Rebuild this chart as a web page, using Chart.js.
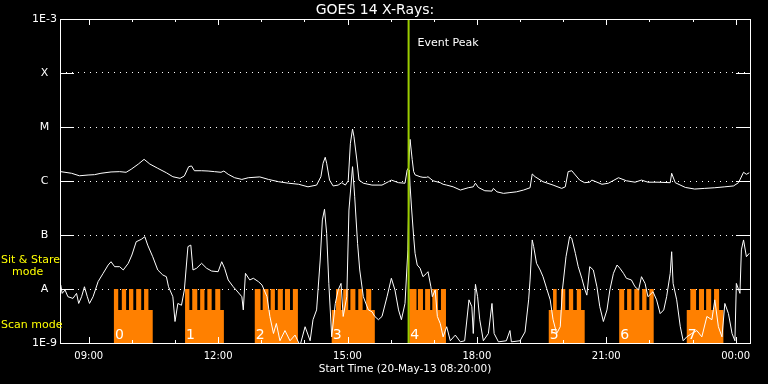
<!DOCTYPE html>
<html>
<head>
<meta charset="utf-8">
<script src="https://cdn.jsdelivr.net/npm/chart.js@4.4.1/dist/chart.umd.min.js"></script>
<style>
  html, body { margin: 0; padding: 0; background: #000; }
</style>
</head>
<body>
<canvas id="goes" width="768" height="384"></canvas>
<script>
// GOES 14 X-ray flux, 20-May-13, minutes after 08:20:00
const longTime = [1,16,27,39,48,57,71,83,92,99,109,117,125,136,148,157,167,173,179,183,187,197,206,215,224,228,234,243,253,262,278,290,304,318,332,345,357,363,366,369,371,375,380,387,392,397,401,404,407,409,413,416,422,434,448,457,461,471,480,483,485,487,490,492,494,501,505,510,512,519,529,533,538,547,557,568,575,578,582,591,601,603,608,617,626,635,645,654,657,661,672,686,698,703,707,712,717,723,730,737,740,754,763,777,788,800,809,818,832,849,851,856,870,883,897,911,925,937,944,951,955,959];
const longFlux = [1.49e-6,1.39e-6,1.25e-6,1.29e-6,1.31e-6,1.39e-6,1.47e-6,1.49e-6,1.45e-6,1.65e-6,2.06e-6,2.52e-6,2.06e-6,1.72e-6,1.42e-6,1.20e-6,1.12e-6,1.24e-6,1.84e-6,1.90e-6,1.55e-6,1.55e-6,1.53e-6,1.49e-6,1.45e-6,1.53e-6,1.33e-6,1.15e-6,1.07e-6,1.15e-6,1.19e-6,1.07e-6,9.7e-7,9.1e-7,8.7e-7,7.8e-7,8.4e-7,1.20e-6,2.13e-6,2.75e-6,2.13e-6,1.04e-6,8.1e-7,8.4e-7,9.3e-7,8.4e-7,1.01e-6,4.99e-6,9.17e-6,6.6e-6,2.45e-6,1.04e-6,9.1e-7,8.4e-7,8.4e-7,9.7e-7,1.04e-6,9.3e-7,9.1e-7,1.6e-6,1.76e-6,5.9e-6,2.5e-6,1.5e-6,1.3e-6,1.20e-6,1.17e-6,1.17e-6,1.20e-6,1.01e-6,9.3e-7,8.7e-7,8.4e-7,7.8e-7,6.8e-7,7.5e-7,7.8e-7,9.1e-7,7.6e-7,6.6e-7,6.5e-7,7.3e-7,6.3e-7,5.9e-7,6.1e-7,6.3e-7,6.8e-7,7.5e-7,1.35e-6,1.20e-6,9.7e-7,8.4e-7,7.3e-7,7.8e-7,1.49e-6,1.55e-6,1.29e-6,1.04e-6,9.3e-7,9.5e-7,1.04e-6,8.7e-7,9.1e-7,1.15e-6,1.01e-6,9.5e-7,1.04e-6,9.5e-7,9.5e-7,9.3e-7,1.39e-6,9.3e-7,7.6e-7,7.1e-7,7.3e-7,7.5e-7,7.8e-7,8.1e-7,9.3e-7,1.45e-6,1.33e-6,1.42e-6];

const shortTime = [1,3,7,11,18,23,26,30,34,38,41,46,53,60,67,71,76,83,88,95,100,106,113,118,122,129,136,143,148,151,157,160,164,169,173,178,182,185,190,197,204,211,220,225,229,234,241,245,253,255,258,264,269,276,281,288,292,297,301,306,313,320,327,334,341,348,352,357,362,365,368,371,374,378,383,387,391,394,399,402,407,410,414,417,422,429,434,438,443,448,455,461,466,471,475,480,484,486,487,489,492,494,497,501,505,510,512,516,518,522,525,529,533,538,543,550,557,563,569,573,575,578,581,584,589,596,601,604,610,621,626,628,640,647,652,654,657,659,663,668,672,677,682,686,691,696,699,704,709,712,717,721,726,730,733,737,742,747,751,756,761,765,770,775,779,784,788,795,800,805,809,814,818,825,830,835,840,844,849,851,853,858,863,867,872,879,886,893,900,907,911,916,921,925,930,935,939,941,946,948,951,955,959];
const shortFlux = [1.19e-8,8.3e-9,9.6e-9,7.2e-9,6.7e-9,8.3e-9,5.4e-9,7.2e-9,1.10e-8,7.2e-9,5.4e-9,7.2e-9,1.37e-8,1.95e-8,2.78e-8,3.2e-8,2.59e-8,2.59e-8,2.25e-8,2.99e-8,4.26e-8,7.5e-8,8.3e-8,9.3e-8,6.5e-8,3.96e-8,2.25e-8,1.82e-8,1.69e-8,1.10e-8,7.2e-9,2.5e-9,5.4e-9,5.0e-9,9.6e-9,6.1e-8,6.5e-8,2.25e-8,2.42e-8,2.99e-8,2.42e-8,2.15e-8,2.09e-8,3.2e-8,2.42e-8,1.47e-8,1.10e-8,9.6e-9,7.2e-9,4.1e-9,1.95e-8,1.47e-8,1.58e-8,1.37e-8,1.19e-8,7.2e-9,3.1e-9,1.5e-9,2.3e-9,1.1e-9,1.7e-9,1.1e-9,1.4e-9,9e-10,2.0e-9,1.1e-9,2.7e-9,4.1e-9,3.44e-8,1.9e-7,3.0e-7,1.07e-7,1.27e-8,1.3e-9,5.4e-9,9.6e-9,1.27e-8,3.1e-9,7.2e-9,2.9e-7,1.84e-6,5.1e-7,7.0e-8,2.25e-8,7.2e-9,4.1e-9,3.8e-9,3.1e-9,2.7e-9,3.1e-9,7.2e-9,1.58e-8,9.6e-9,4.1e-9,2.7e-9,5.4e-9,5.3e-8,1.6e-6,8.4e-7,3.3e-7,9.3e-8,4.58e-8,2.78e-8,2.42e-8,1.69e-8,1.95e-8,2.09e-8,1.10e-8,7.2e-9,9.6e-9,3.1e-9,2.3e-9,1.3e-9,2.0e-9,1.1e-9,1.4e-9,1.05e-9,1.1e-9,6.3e-9,4.7e-9,1.5e-9,1.22e-8,7.2e-9,2.7e-9,1.1e-9,1.5e-9,5.4e-9,1.5e-9,1.05e-9,1.1e-9,1.7e-9,1.05e-9,1.1e-9,1.6e-9,6.3e-9,1.47e-8,8.1e-8,6.1e-8,2.99e-8,2.25e-8,1.69e-8,1.03e-8,6.3e-9,2.7e-9,1.5e-9,2.0e-9,9.6e-9,3.96e-8,9.3e-8,8.7e-8,4.58e-8,2.59e-8,1.58e-8,1.0e-8,7.7e-9,2.59e-8,2.25e-8,1.10e-8,4.7e-9,2.5e-9,4.1e-9,9.6e-9,1.95e-8,2.78e-8,2.42e-8,1.95e-8,1.58e-8,1.47e-8,1.10e-8,9.6e-9,1.69e-8,1.27e-8,7.2e-9,8.9e-9,6.3e-9,3.5e-9,4.1e-9,7.2e-9,1.95e-8,4.9e-8,1.27e-8,6.3e-9,2.0e-9,1.1e-9,1.3e-9,1.5e-9,1.7e-9,1.3e-9,3.1e-9,2.7e-9,6.3e-9,2.0e-9,1.3e-9,5.4e-9,3.5e-9,1.5e-9,1.1e-9,1.27e-8,8.3e-9,5.3e-8,8.1e-8,3.96e-8,4.58e-8];

// observing schedule: scan blocks and the sit & stare pointings inside them
const scanStart = [75, 174, 271, 378, 486, 680, 778, 872];
const scanEnd   = [129, 228, 331, 438, 537, 730, 826, 923];
const stareTeeth = [
    [[75,81],[86,92],[96,102],[106,113],[117,123]],
    [[174,180],[184,191],[195,201],[205,211],[216,223]],
    [[271,279],[282,290],[293,299],[303,310],[313,320],[324,331]],
    [[384,391],[394,401],[404,411],[415,421],[426,433]],
    [[486,496],[498,505],[508,515],[518,526],[530,537]],
    [[686,691],[697,703],[708,714],[719,725]],
    [[778,785],[789,795],[799,806],[810,816],[820,826]],
    [[877,885],[889,896],[899,906],[910,917]]
];
const blockLabels = ['0','1','2','3','4','5','6','7'];
const stareLevel = 1e-8;
const scanLevel = 4.1e-9;
const eventTime = 485;

const yTickValues = [1e-9, 1e-8, 1e-7, 1e-6, 1e-5, 1e-4, 1e-3];
const yTickLabels = ['1E-9', 'A', 'B', 'C', 'M', 'X', '1E-3'];
const xTickValues = [40, 220, 400, 580, 760, 940];
const xTickLabels = ['09:00', '12:00', '15:00', '18:00', '21:00', '00:00'];
const hourTicks = [40,100,160,220,280,340,400,460,520,580,640,700,760,820,880,940];

const FONT = '"DejaVu Sans", sans-serif';
const ORANGE = '#ff8000';
const GREEN = '#9bcd00';

// step function of the observing mode (value holds until the next point)
function modeAt(t) {
    for (let i = 0; i < scanStart.length; i++) {
        if (stareTeeth[i].some(p => t >= p[0] && t < p[1])) return stareLevel;
        if (t >= scanStart[i] && t < scanEnd[i]) return scanLevel;
    }
    return 1e-9;
}
const bounds = new Set([0, 960]);
scanStart.forEach((s, i) => {
    bounds.add(s); bounds.add(scanEnd[i]);
    stareTeeth[i].forEach(p => { bounds.add(p[0]); bounds.add(p[1]); });
});
const modePoints = [...bounds].sort((a, b) => a - b).map(t => ({ x: t, y: modeAt(t) }));

const longPoints = longTime.map((t, i) => ({ x: t, y: longFlux[i] }));
const shortPoints = shortTime.map((t, i) => ({ x: t, y: shortFlux[i] }));

// frame, inward ticks and the annotations
const goesFrame = {
    id: 'goesFrame',
    afterDatasetsDraw(chart) {
        const { ctx, chartArea: a, scales: { x, y } } = chart;
        const L = Math.round(a.left), R = Math.round(a.right);
        const T = Math.round(a.top), B = Math.round(a.bottom);
        ctx.save();
        ctx.strokeStyle = '#fff';
        ctx.lineWidth = 1;
        ctx.beginPath();
        hourTicks.forEach(h => {
            const px = Math.round(x.getPixelForValue(h)) + 0.5;
            const len = xTickValues.includes(h) ? 6 : 3;
            ctx.moveTo(px, T); ctx.lineTo(px, T + len);
            ctx.moveTo(px, B); ctx.lineTo(px, B - len);
        });
        yTickValues.forEach(v => {
            const py = Math.round(y.getPixelForValue(v)) + 0.5;
            ctx.moveTo(L, py); ctx.lineTo(L + 14, py);
            ctx.moveTo(R - 14, py); ctx.lineTo(R, py);
        });
        ctx.stroke();
        ctx.strokeRect(L + 0.5, T + 0.5, R - L, B - T);

        // block numbers
        ctx.fillStyle = '#fff';
        ctx.font = '14px ' + FONT;
        ctx.textBaseline = 'alphabetic';
        ctx.textAlign = 'left';
        scanStart.forEach((s, i) => {
            ctx.fillText(blockLabels[i], x.getPixelForValue(s) + 1, B - 4);
        });

        ctx.font = '11px ' + FONT;
        ctx.textBaseline = 'middle';
        ctx.fillText('Event Peak', x.getPixelForValue(eventTime) + 9, 43);

        ctx.fillStyle = '#ffff00';
        ctx.textBaseline = 'alphabetic';
        ctx.fillText('Sit & Stare', 1, 263);
        ctx.fillText('mode', 12, 275);
        ctx.fillText('Scan mode', 1, 328);
        ctx.restore();
    }
};

new Chart(document.getElementById('goes'), {
    type: 'line',
    data: {
        datasets: [
            {
                label: 'Mode',
                data: modePoints,
                stepped: 'before',
                fill: 'start',
                backgroundColor: ORANGE,
                borderColor: 'rgba(0,0,0,0)',
                borderWidth: 0,
                pointRadius: 0,
                order: 3
            },
            {
                label: '1-8 A',
                data: longPoints,
                borderColor: '#fff',
                borderWidth: 1,
                pointRadius: 0,
                order: 2
            },
            {
                label: '0.5-4 A',
                data: shortPoints,
                borderColor: '#fff',
                borderWidth: 1,
                pointRadius: 0,
                order: 1
            },
            {
                label: 'Event Peak',
                data: [{ x: eventTime, y: 1e-3 }, { x: eventTime, y: 1e-9 }],
                borderColor: GREEN,
                borderWidth: 2,
                pointRadius: 0,
                order: 0
            }
        ]
    },
    options: {
        responsive: false,
        animation: false,
        layout: { padding: { right: 18 } },
        plugins: {
            legend: { display: false },
            tooltip: { enabled: false },
            title: {
                display: true,
                text: 'GOES 14 X-Rays:',
                color: '#fff',
                font: { family: FONT, size: 14, weight: 'normal' },
                padding: { top: 1.5, bottom: 0.7 }
            }
        },
        scales: {
            x: {
                type: 'linear',
                min: 0,
                max: 960,
                grid: { display: false },
                border: { display: false },
                afterBuildTicks: s => { s.ticks = xTickValues.map(v => ({ value: v })); },
                afterFit: s => { s.height = 41; },
                ticks: {
                    color: '#fff',
                    font: { family: FONT, size: 10 },
                    maxRotation: 0,
                    autoSkip: false,
                    padding: -1,
                    callback: (v, i) => xTickLabels[i]
                },
                title: {
                    display: true,
                    text: 'Start Time (20-May-13 08:20:00)',
                    color: '#fff',
                    font: { family: FONT, size: 10.5 },
                    padding: { top: 0, bottom: 8 }
                }
            },
            y: {
                type: 'logarithmic',
                min: 1e-9,
                max: 1e-3,
                afterBuildTicks: s => { s.ticks = yTickValues.map(v => ({ value: v })); },
                afterFit: s => { s.width = 60; },
                grid: {
                    drawTicks: false,
                    color: c => (c.tick && (c.tick.value === 1e-9 || c.tick.value === 1e-3)) ? 'rgba(0,0,0,0)' : '#fff',
                    lineWidth: 1
                },
                border: { display: false, dash: [1, 5] },
                ticks: {
                    color: '#fff',
                    font: { family: FONT, size: 11 },
                    crossAlign: 'center',
                    padding: 3,
                    callback: (v, i) => yTickLabels[i]
                }
            }
        }
    },
    plugins: [goesFrame]
});
</script>
</body>
</html>
